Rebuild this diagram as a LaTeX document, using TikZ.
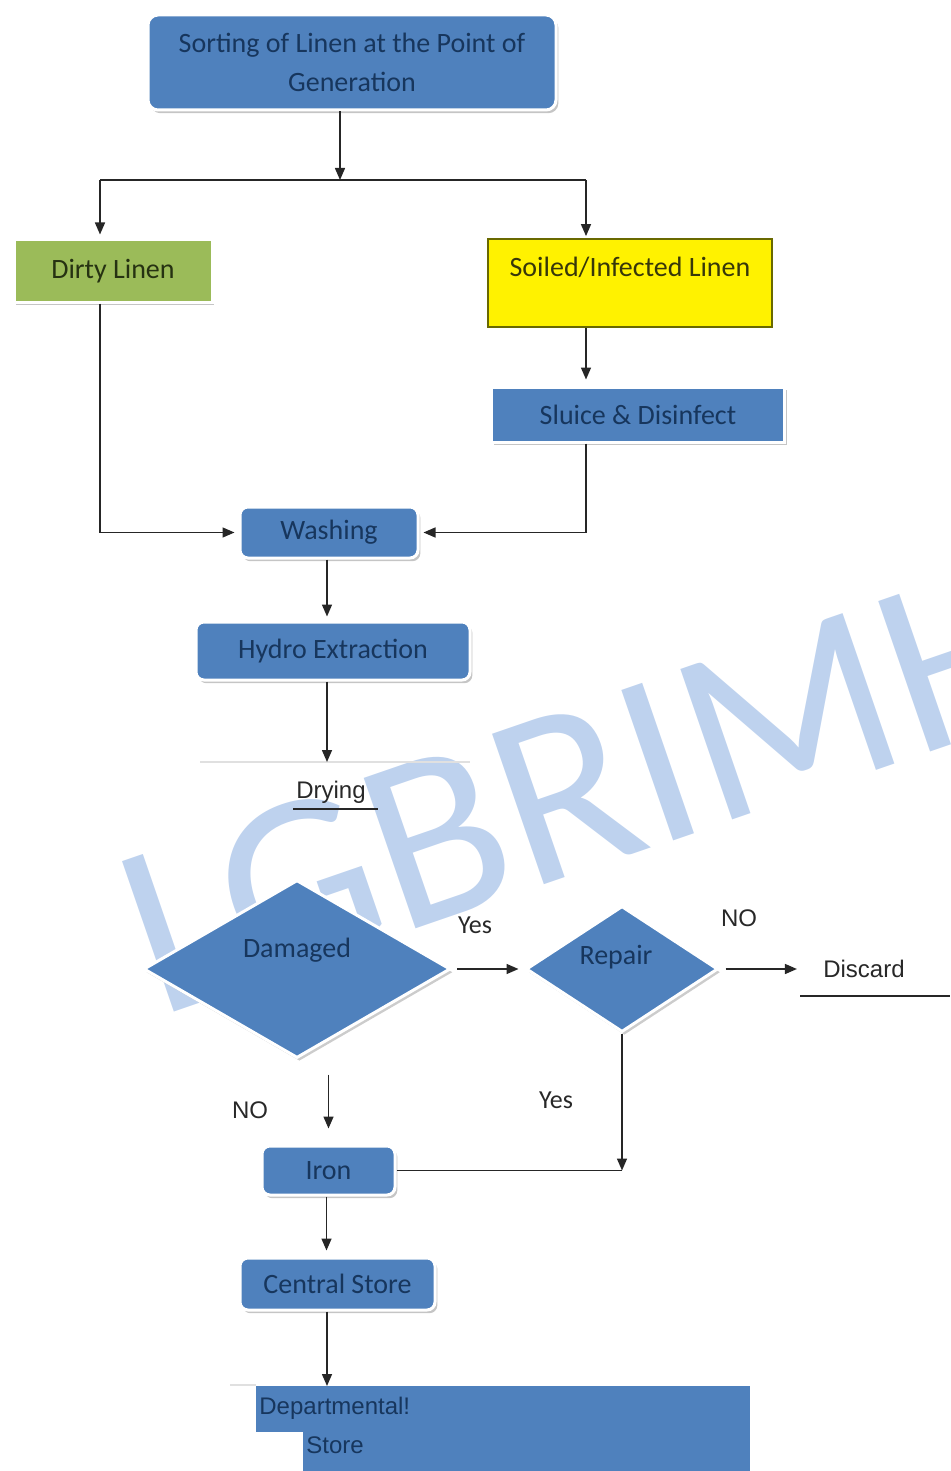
\documentclass[tikz,border=0pt]{standalone}
\usepackage{fontspec}
\setmainfont{Carlito}
\newfontfamily\arialf{Liberation Sans}
\usetikzlibrary{shapes.geometric,arrows.meta,shadows,calc}
\definecolor{myblue}{RGB}{79,129,189}
\definecolor{navy}{RGB}{23,54,93}
\definecolor{lgreen}{RGB}{155,187,89}
\definecolor{dgreen}{RGB}{38,50,18}
\definecolor{olivetext}{RGB}{55,55,10}
\definecolor{olivedraw}{RGB}{105,105,0}
\definecolor{wmblue}{RGB}{190,210,238}
\definecolor{lbltext}{RGB}{40,40,40}
\begin{document}
\begin{tikzpicture}[x=0.5pt,y=-0.5pt,
  boxfont/.style={font=\fontsize{14}{19.5}\selectfont},
  box/.style={draw=white, line width=1.5pt, fill=myblue, text=navy, boxfont, inner sep=0pt,
    drop shadow={shadow xshift=1.2pt, shadow yshift=-1.6pt, fill=black!45}},
  rbox/.style={box, rounded corners=4pt},
  dia/.style={diamond, inner sep=0pt, draw=white, line width=1.5pt, fill=myblue,
    drop shadow={shadow xshift=1.2pt, shadow yshift=-1.6pt, fill=black!40}},
  boxtext/.style={boxfont, text=navy, inner sep=0pt},
  ln/.style={line width=0.75pt, draw=black!85},
  arr/.style={ln, -{Triangle[length=6pt,width=5pt]}},
  albl/.style={font=\arialf\fontsize{12}{14}\selectfont, text=lbltext, inner sep=0pt},
  clbl/.style={font=\fontsize{13}{15}\selectfont, text=lbltext, inner sep=0pt}]
\useasboundingbox (0,0) rectangle (950,1471);

% watermark (behind everything)
\begin{scope}
\clip (0,0) rectangle (950,1471);
\node (wm) [font=\fontsize{124}{124}\selectfont, text=wmblue, rotate=19, anchor=base west, inner sep=0pt] at (158,1018) {LGBRIMH};
\end{scope}

% nodes
\node (top) [rbox, rounded corners=5pt, minimum width=204pt, minimum height=47.5pt, align=center] at (352,62.5) {Sorting of Linen at the Point of\\Generation};
\node (dirty) [box, fill=lgreen, text=dgreen, minimum width=99pt, minimum height=31pt] at (113,271) {Dirty Linen};
\node (soiled) [draw=olivedraw, line width=0.9pt, fill=yellow, minimum width=142pt, minimum height=44pt, inner sep=0pt] at (630,283) {};
\node (soiledtext) [boxtext, text=olivetext] at (630,267) {Soiled/Infected Linen};
\node (sluice) [box, minimum width=146.5pt, minimum height=27.5pt] at (638,414.5) {Sluice \& Disinfect};
\node (washing) [rbox, minimum width=89pt, minimum height=25.5pt] at (329,532.5) {Washing};
\node (hydro) [rbox, minimum width=137pt, minimum height=29pt] at (333,651) {Hydro Extraction};
\node (drying) [albl] at (331,792) {Drying};
\node (dam) [dia, minimum width=153.5pt, minimum height=89pt] at (297,969) {};
\node (damtext) [boxtext] at (297,950) {Damaged};
\node (rep) [dia, minimum width=96pt, minimum height=63pt] at (622,969) {};
\node (reptext) [boxtext] at (616,957) {Repair};
\node (discard) [albl] at (864,969) {Discard};
\node (iron) [rbox, minimum width=66.5pt, minimum height=24.5pt] at (328.5,1170.5) {Iron};
\node (central) [rbox, minimum width=97.5pt, minimum height=26pt] at (337.5,1284) {Central Store};
\node (dept) [fill=myblue, minimum width=223.5pt, minimum height=42.5pt, inner sep=0pt, anchor=north west] at (303,1386) {};
\node (deptl) [fill=myblue, minimum width=23.5pt, minimum height=23pt, inner sep=0pt, anchor=north west] at (256,1386) {};
\node (depttext1) [albl, text=navy, anchor=west] at (259,1408) {Departmental!};
\node (depttext2) [albl, text=navy, anchor=west] at (306,1445) {Store};

% labels
\node (yes1) [clbl] at (475,925) {Yes};
\node (no1) [albl] at (739,918) {NO};
\node (no2) [albl] at (250,1110) {NO};
\node (yes2) [clbl] at (556,1100) {Yes};

% decorative lines
\draw[black!12, line width=0.75pt] (200,762) -- (470,762);
\draw[black!12, line width=0.75pt] (230,1385) -- (256,1385);
\draw[ln] (293,809) -- (378,809);
\draw[ln] (800,996) -- (950,996);

% connectors
\coordinate (split) at (340,180);
\coordinate (dl) at (100,180);
\coordinate (sl) at (586,180);
\draw[arr] (split |- top.south) -- (split);
\draw[ln] (dl) -- (sl);
\draw[arr, shorten >=2pt] (dl) -- (dl |- dirty.north);
\draw[arr, shorten >=1pt] (sl) -- (sl |- soiled.north);
\coordinate (s1) at ($(soiled.south)+(-44,0)$);
\draw[arr, shorten >=3pt] (s1) -- (s1 |- sluice.north);
\coordinate (d1) at ($(dirty.south)+(-13,0)$);
\draw[arr, shorten >=2pt] (d1) |- (washing.west);
\coordinate (sl2) at ($(sluice.south)+(-52,0)$);
\draw[arr, shorten >=2pt] (sl2) |- (washing.east);
\coordinate (w1) at ($(washing.south)+(-2,0)$);
\draw[arr, shorten >=2pt] (w1) -- (w1 |- hydro.north);
\coordinate (dryin) at (327,762);
\draw[arr] (dryin |- hydro.south) -- (dryin);
\draw[arr] ($(dam.east)+(5,0)$) -- ($(rep.west)+(-6,0)$);
\draw[arr] ($(rep.east)+(6,0)$) -- ($(discard.west)+(-26,0)$);
\coordinate (i1) at ($(iron.north |- dam.south)+(0,15)$);
\draw[arr] (i1) -- ($(iron.north)+(0,-16)$);
\draw[arr] (rep.south) -- (rep.south |- iron.east);
\draw[ln] (iron.east) -- (rep.south |- iron.east);
\coordinate (i2) at ($(iron.south)+(-2,0)$);
\draw[arr, shorten >=3pt] (i2) -- (i2 |- central.north);
\coordinate (c1) at ($(central.south)+(-10.5,0)$);
\draw[arr] (c1) -- (c1 |- dept.north);
\end{tikzpicture}
\end{document}
